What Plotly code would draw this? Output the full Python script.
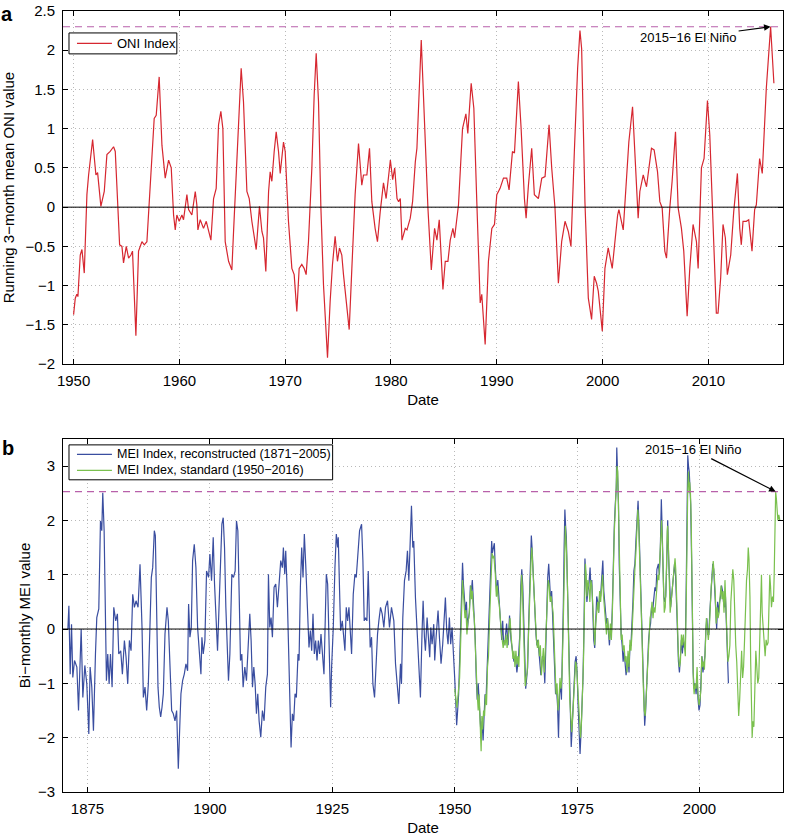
import plotly.graph_objects as go

# ---------------- data ----------------
ONI_POINTS = [
(1950.0,-1.37),(1950.16,-1.16),(1950.31,-1.11),(1950.41,-1.14),(1950.63,-0.61),(1950.79,-0.54),(1951.01,-0.84),(1951.26,0.16),(1951.42,0.41),(1951.8,0.86),(1952.11,0.41),(1952.27,0.44),(1952.58,0.01),(1952.9,0.20),(1953.15,0.67),(1953.46,0.71),(1953.78,0.77),(1953.94,0.71),(1954.09,0.28),(1954.35,-0.48),(1954.57,-0.50),(1954.72,-0.71),(1954.98,-0.50),(1955.2,-0.65),(1955.42,-0.61),(1955.57,-0.56),(1955.89,-1.64),(1956.14,-0.56),(1956.46,-0.44),(1956.68,-0.48),(1956.93,-0.44),(1957.15,0.03),(1957.4,0.54),(1957.62,1.13),(1957.81,1.17),(1958.09,1.66),(1958.35,0.79),(1958.66,0.37),(1958.98,0.60),(1959.23,0.50),(1959.45,-0.10),(1959.61,-0.29),(1959.76,-0.10),(1959.98,-0.18),(1960.24,-0.10),(1960.39,-0.16),(1960.71,0.16),(1960.87,-0.03),(1961.18,-0.10),(1961.5,0.20),(1961.65,0.03),(1961.75,-0.29),(1961.97,-0.16),(1962.28,-0.27),(1962.54,-0.18),(1962.76,-0.31),(1962.98,-0.42),(1963.23,0.11),(1963.48,0.24),(1963.7,1.05),(1963.92,1.22),(1964.11,1.00),(1964.33,-0.44),(1964.65,-0.69),(1964.96,-0.80),(1965.12,-0.31),(1965.43,0.58),(1965.65,1.26),(1965.84,1.77),(1966.06,1.34),(1966.38,0.20),(1966.6,0.11),(1966.85,-0.18),(1967.26,-0.54),(1967.39,-0.35),(1967.57,0.01),(1967.8,-0.31),(1967.95,-0.39),(1968.17,-0.82),(1968.43,0.20),(1968.58,0.45),(1968.74,0.33),(1968.96,0.71),(1969.15,0.96),(1969.37,0.71),(1969.53,0.43),(1969.84,0.83),(1970.0,0.71),(1970.31,-0.18),(1970.63,-0.78),(1970.85,-0.86),(1971.1,-1.33),(1971.32,-0.78),(1971.57,-0.73),(1971.79,-0.78),(1971.98,-0.86),(1972.2,-0.44),(1972.52,0.50),(1972.74,1.43),(1972.93,1.96),(1973.15,1.34),(1973.37,0.01),(1973.62,-0.99),(1974.0,-1.92),(1974.25,-1.20),(1974.47,-0.73),(1974.72,-0.37),(1974.94,-0.69),(1975.13,-0.52),(1975.35,-0.61),(1975.51,-0.86),(1976.05,-1.56),(1976.3,-0.78),(1976.61,0.16),(1976.93,0.81),(1977.24,0.28),(1977.4,0.41),(1977.72,0.41),(1977.97,0.75),(1978.19,0.07),(1978.5,-0.27),(1978.72,-0.44),(1978.98,-0.06),(1979.29,0.31),(1979.54,0.11),(1979.76,0.37),(1979.94,0.60),(1980.16,0.35),(1980.35,0.50),(1980.57,0.11),(1980.72,0.07),(1980.88,0.11),(1981.04,-0.42),(1981.35,-0.27),(1981.51,-0.29),(1981.82,-0.14),(1982.04,0.07),(1982.3,0.58),(1982.45,0.75),(1982.86,2.13),(1983.18,0.96),(1983.49,-0.01),(1983.81,-0.80),(1984.12,-0.27),(1984.34,-0.42),(1984.56,-0.16),(1984.91,-1.05),(1985.13,-0.69),(1985.38,-0.69),(1985.6,-0.42),(1985.85,-0.27),(1986.01,-0.39),(1986.38,0.03),(1986.76,1.00),(1987.08,1.19),(1987.26,0.94),(1987.58,1.58),(1987.83,1.26),(1988.11,0.07),(1988.43,-1.22),(1988.58,-1.11),(1988.9,-1.75),(1989.21,-0.69),(1989.53,-0.27),(1989.78,-0.22),(1990.0,0.16),(1990.31,0.24),(1990.63,0.37),(1990.94,0.37),(1991.16,0.22),(1991.48,0.71),(1991.67,0.69),(1992.04,1.60),(1992.3,1.00),(1992.61,0.11),(1992.77,-0.14),(1992.99,0.28),(1993.3,0.75),(1993.55,0.16),(1993.93,0.11),(1994.25,0.37),(1994.56,0.39),(1994.94,1.05),(1995.19,0.50),(1995.5,-0.01),(1995.82,-0.97),(1996.13,-0.44),(1996.45,-0.18),(1996.76,-0.31),(1997.01,-0.50),(1997.33,0.71),(1997.64,1.77),(1997.86,2.25),(1998.02,2.02),(1998.33,0.07),(1998.65,-1.16),(1998.96,-1.43),(1999.21,-0.88),(1999.43,-0.97),(1999.59,-1.07),(1999.97,-1.58),(2000.22,-0.78),(2000.53,-0.52),(2000.91,-0.78),(2001.42,-0.10),(2001.54,-0.03),(2001.95,-0.29),(2002.26,0.33),(2002.48,0.83),(2002.83,1.28),(2003.05,0.71),(2003.36,-0.14),(2003.52,0.20),(2003.84,0.41),(2004.15,0.26),(2004.62,0.75),(2004.87,0.73),(2005.19,0.45),(2005.41,0.07),(2005.63,-0.01),(2005.88,-0.56),(2006.04,-0.65),(2006.35,-0.01),(2006.57,0.33),(2006.89,0.96),(2007.14,-0.01),(2007.45,-0.27),(2007.67,-0.56),(2007.99,-1.39),(2008.24,-0.78),(2008.55,-0.22),(2008.87,-0.44),(2009.03,-0.78),(2009.34,0.50),(2009.59,0.62),(2009.91,1.36),(2010.13,0.92),(2010.44,-0.10),(2010.75,-1.35),(2010.91,-1.35),(2011.16,-0.90),(2011.38,-0.22),(2011.6,-0.39),(2011.79,-0.86),(2012.11,-0.61),(2012.39,-0.06),(2012.74,0.43),(2012.96,-0.27),(2013.11,-0.48),(2013.27,-0.18),(2013.58,-0.18),(2013.81,-0.16),(2014.12,-0.56),(2014.37,-0.03),(2014.53,0.03),(2014.84,0.62),(2015.09,0.43),(2015.47,1.51),(2015.88,2.30),(2016.19,1.58),
]

MEI_EXT_POINTS = [
(1871.0,0.0),(1871.2,0.43),(1871.47,-0.83),(1871.74,0.09),(1872.0,-0.89),(1872.35,-0.58),(1872.83,-0.70),(1873.17,-1.50),(1873.71,0.0),(1874.05,-1.26),(1874.46,-0.67),(1874.86,-1.01),(1875.27,-1.93),(1875.54,-0.70),(1875.88,-1.07),(1876.22,-1.87),(1876.63,-0.46),(1876.9,0.21),(1877.31,0.37),(1877.65,1.99),(1877.92,1.81),(1878.12,2.51),(1878.4,1.81),(1878.67,0.21),(1878.87,-0.95),(1879.14,-0.46),(1879.42,-1.01),(1879.69,-0.46),(1880.03,-1.07),(1880.37,0.40),(1880.77,0.15),(1881.11,0.28),(1881.39,-0.46),(1881.79,-0.40),(1882.13,-0.83),(1882.54,-0.21),(1882.88,-0.52),(1883.22,-1.01),(1883.56,-0.21),(1883.9,-0.40),(1884.24,0.64),(1884.58,0.40),(1884.92,0.52),(1885.33,0.40),(1885.73,1.19),(1886.14,0.03),(1886.41,-1.26),(1886.75,-1.07),(1887.09,-1.50),(1887.43,-1.01),(1887.77,0.15),(1888.04,0.95),(1888.32,1.13),(1888.65,1.81),(1888.86,1.72),(1889.13,0.40),(1889.4,-1.07),(1889.67,-1.44),(1889.95,-1.62),(1890.22,-1.44),(1890.49,-1.19),(1890.83,-0.09),(1891.24,0.40),(1891.51,0.15),(1891.85,-0.58),(1892.19,-1.50),(1892.53,-1.56),(1892.87,-1.69),(1893.21,-1.50),(1893.55,-2.57),(1893.89,-1.69),(1894.09,-1.19),(1894.43,-0.95),(1894.77,-0.83),(1895.11,-0.64),(1895.45,-0.77),(1895.65,0.46),(1895.92,-0.15),(1896.2,0.03),(1896.47,1.26),(1896.81,1.56),(1897.15,1.13),(1897.49,0.03),(1897.83,-0.34),(1898.17,-0.83),(1898.37,-0.15),(1898.64,-0.46),(1898.98,-0.21),(1899.32,1.07),(1899.73,0.95),(1900.0,1.38),(1900.34,0.89),(1900.68,1.69),(1900.95,0.83),(1901.22,0.28),(1901.56,-0.40),(1901.77,0.15),(1902.17,1.38),(1902.45,1.93),(1902.72,2.05),(1902.99,1.50),(1903.26,0.40),(1903.53,-0.46),(1903.8,-0.95),(1904.08,-0.46),(1904.48,1.01),(1904.82,0.95),(1905.16,1.07),(1905.43,1.99),(1905.71,1.81),(1905.98,0.64),(1906.25,-0.58),(1906.52,-0.46),(1906.79,-1.07),(1907.13,-0.70),(1907.47,-0.95),(1907.74,-0.46),(1908.15,0.28),(1908.42,-0.21),(1908.7,-1.07),(1908.97,-0.70),(1909.24,-1.01),(1909.51,-1.56),(1909.78,-1.19),(1910.05,-1.69),(1910.39,-1.99),(1910.73,-1.50),(1911.07,-1.69),(1911.41,-1.07),(1911.75,-0.83),(1911.96,1.01),(1912.23,0.03),(1912.5,0.21),(1912.77,-0.15),(1913.11,0.77),(1913.45,0.83),(1913.79,0.40),(1914.13,0.89),(1914.47,1.26),(1914.81,1.13),(1915.01,1.50),(1915.29,1.01),(1915.49,1.44),(1915.76,0.77),(1916.03,-0.34),(1916.3,-0.89),(1916.58,-2.18),(1916.85,-1.56),(1917.12,-1.69),(1917.39,-1.19),(1917.66,-1.26),(1918.0,-0.46),(1918.21,-0.58),(1918.48,0.77),(1918.75,1.50),(1919.02,0.95),(1919.29,1.75),(1919.57,1.19),(1919.91,0.21),(1920.24,-0.34),(1920.52,-0.03),(1920.79,-0.40),(1921.06,0.28),(1921.33,-0.46),(1921.6,-0.21),(1921.88,-0.58),(1922.15,-0.21),(1922.42,-0.46),(1922.69,-0.09),(1922.96,-0.46),(1923.3,-0.83),(1923.51,-0.03),(1923.78,1.01),(1924.05,0.83),(1924.32,-0.34),(1924.66,-1.44),(1924.86,-0.70),(1925.2,0.03),(1925.54,1.13),(1925.82,1.75),(1926.09,1.50),(1926.22,1.69),(1926.49,0.70),(1926.7,-0.03),(1927.04,0.15),(1927.38,-0.21),(1927.58,-0.40),(1927.85,0.40),(1928.13,0.15),(1928.4,0.40),(1928.67,-0.09),(1928.94,-0.46),(1929.28,0.64),(1929.62,1.01),(1929.89,0.95),(1930.16,1.26),(1930.57,1.81),(1930.98,1.93),(1931.25,1.26),(1931.52,0.15),(1931.79,0.21),(1932.07,0.15),(1932.34,1.07),(1932.54,0.34),(1932.74,-0.34),(1933.02,-0.15),(1933.29,-1.01),(1933.63,-1.26),(1933.97,-0.46),(1934.24,-0.09),(1934.51,0.15),(1934.85,0.40),(1935.19,0.28),(1935.53,0.03),(1935.87,0.40),(1936.28,0.52),(1936.68,0.03),(1937.09,0.40),(1937.57,0.15),
(1937.91,-0.64),(1938.25,-1.01),(1938.59,-1.38),(1938.93,-0.64),(1939.13,-1.01),(1939.4,0.21),(1939.74,0.89),(1940.08,1.07),(1940.35,1.44),(1940.63,0.89),(1940.96,1.87),(1941.17,2.27),(1941.44,1.50),(1941.64,1.62),(1941.98,0.58),(1942.32,-0.03),(1942.66,-0.89),(1943.0,-1.26),(1943.34,-0.03),(1943.55,0.52),(1943.82,-0.15),(1944.02,-0.40),(1944.36,0.21),(1944.7,-0.15),(1944.9,-0.52),(1945.11,0.03),(1945.38,-0.28),(1945.72,0.09),(1945.92,-0.58),(1946.2,-0.15),(1946.6,0.34),(1946.88,-0.15),(1947.21,-0.64),(1947.55,-0.28),(1947.83,0.21),(1948.1,0.58),(1948.37,-0.03),(1948.64,-0.28),(1948.91,0.21),(1949.18,-0.28),(1949.46,0.03),(1949.73,-0.34),
(1950.0,-0.9),(1950.2,-1.3),(1950.4,-1.77),(1950.6,-1.5),(1950.8,-1.2),(1951.0,-0.6),(1951.2,0.2),(1951.4,0.9),(1951.6,1.22),(1951.8,0.8),(1952.0,0.4),(1952.2,0.3),(1952.4,0.5),(1952.6,0.0),(1952.8,0.2),(1953.0,0.3),(1953.2,0.8),(1953.4,0.7),(1953.6,0.9),(1953.8,0.5),(1954.0,0.3),(1954.2,-0.2),(1954.4,-0.9),(1954.6,-1.3),(1954.8,-1.0),(1955.0,-1.3),(1955.2,-1.6),(1955.4,-2.0),(1955.6,-1.7),(1955.8,-2.05),(1956.0,-1.6),(1956.2,-1.2),(1956.4,-1.3),(1956.6,-0.8),(1956.8,-0.4),(1957.0,0.3),(1957.2,0.9),(1957.4,1.3),(1957.55,1.62),(1957.7,1.4),(1957.9,1.5),(1958.1,1.58),(1958.25,1.2),(1958.4,0.8),(1958.6,0.6),(1958.8,0.9),(1959.0,0.6),(1959.2,0.4),(1959.4,0.1),(1959.6,-0.2),(1959.8,0.15),(1960.0,-0.3),(1960.3,-0.2),(1960.6,0.1),(1960.9,-0.3),(1961.2,0.25),(1961.5,-0.2),(1961.8,-0.45),(1962.1,-0.6),(1962.4,-0.5),(1962.7,-0.8),(1963.0,-0.55),(1963.3,-0.1),(1963.5,0.8),(1963.7,1.1),(1963.9,0.8),(1964.1,0.1),(1964.3,-0.7),(1964.5,-1.1),(1964.7,-0.9),(1964.9,-0.7),(1965.1,0.1),(1965.3,0.6),(1965.5,1.2),(1965.65,1.72),(1965.8,1.5),(1966.0,1.0),(1966.2,0.6),(1966.4,0.3),(1966.6,-0.1),(1966.8,-0.3),(1967.0,-0.2),(1967.3,-0.6),(1967.6,-0.85),(1967.9,-0.5),(1968.2,-0.6),(1968.4,-1.0),(1968.6,-0.3),(1968.8,0.6),(1969.0,0.95),(1969.2,1.2),(1969.4,0.7),(1969.6,0.5),(1969.8,0.7),(1970.0,0.3),(1970.2,0.0),(1970.4,-0.7),(1970.6,-1.2),(1970.8,-1.1),(1971.0,-1.4),(1971.2,-2.0),(1971.4,-1.2),(1971.6,-1.0),(1971.8,-1.3),(1972.0,-0.6),(1972.2,0.5),(1972.35,1.5),(1972.5,2.2),(1972.65,1.9),(1972.8,1.7),(1973.0,0.9),(1973.2,0.1),(1973.4,-1.0),(1973.6,-1.7),(1973.8,-2.17),(1974.0,-1.8),(1974.2,-1.4),(1974.4,-0.9),(1974.6,-0.6),(1974.8,-0.5),(1975.0,-0.8),(1975.2,-1.4),(1975.4,-1.8),(1975.6,-2.3),(1975.8,-1.9),(1976.0,-1.5),(1976.2,-0.9),(1976.4,0.0),(1976.6,1.3),(1976.8,0.9),(1977.0,0.5),(1977.2,0.7),(1977.4,0.8),(1977.65,1.13),(1977.8,0.8),(1978.0,0.9),(1978.2,0.3),(1978.4,-0.2),(1978.6,-0.35),(1978.8,0.3),(1979.0,0.6),(1979.2,0.5),(1979.4,0.3),(1979.6,0.65),(1979.8,0.6),(1980.0,0.9),(1980.25,1.26),(1980.45,0.7),(1980.65,0.4),(1980.85,0.2),(1981.0,0.1),(1981.2,0.2),(1981.4,-0.2),(1981.6,-0.3),(1981.8,0.0),(1982.0,-0.1),(1982.2,0.4),(1982.4,1.38),(1982.6,1.9),(1982.8,2.3),(1983.0,2.6),(1983.1,3.34),(1983.25,3.0),(1983.45,2.3),(1983.6,1.2),(1983.8,0.2),(1984.0,-0.1),(1984.2,-0.3),(1984.4,-0.6),(1984.6,-0.4),(1984.8,-0.7),(1985.0,-0.85),(1985.2,-0.7),(1985.4,-0.5),(1985.6,-0.8),(1985.8,-0.3),(1986.0,-0.3),(1986.2,0.0),(1986.4,0.5),(1986.6,1.07),(1986.8,1.2),(1987.0,1.6),(1987.2,2.05),(1987.45,2.36),(1987.6,2.0),(1987.8,1.3),(1988.0,0.6),(1988.2,0.1),(1988.4,-0.6),(1988.6,-1.4),(1988.8,-1.78),(1989.0,-1.5),(1989.2,-1.0),(1989.4,-0.6),(1989.6,-0.2),(1989.8,0.0),(1990.0,0.1),(1990.2,0.4),(1990.4,0.3),(1990.6,0.5),(1990.9,0.77),(1991.1,0.7),(1991.3,1.1),(1991.6,1.2),(1991.8,1.0),(1992.0,1.5),(1992.2,2.39),(1992.35,1.9),(1992.5,1.2),(1992.7,0.6),(1992.9,0.5),(1993.1,0.6),(1993.3,1.2),(1993.5,2.0),(1993.7,1.3),(1993.9,0.6),(1994.1,0.4),(1994.3,0.6),(1994.5,0.9),(1994.7,1.0),(1994.9,1.2),(1995.1,1.0),(1995.3,0.5),(1995.5,-0.1),(1995.7,-0.6),(1995.9,-0.8),(1996.1,-0.4),(1996.3,-0.2),(1996.5,-0.45),(1996.7,-0.2),(1996.9,-0.35),(1997.1,-0.3),(1997.3,0.9),(1997.45,2.3),(1997.6,3.2),(1997.75,3.0),(1997.9,2.9),(1998.05,2.6),(1998.2,2.3),(1998.4,1.2),(1998.55,0.0),(1998.7,-0.8),(1998.9,-1.1),(1999.1,-1.0),(1999.3,-1.2),(1999.5,-0.9),(1999.7,-1.3),(1999.9,-1.5),(2000.1,-1.4),(2000.3,-1.0),(2000.5,-0.5),(2000.7,-0.8),(2000.9,-0.6),(2001.1,-0.5),(2001.3,0.0),(2001.5,0.2),(2001.7,-0.1),(2001.9,-0.1),(2002.1,0.3),(2002.3,0.7),(2002.5,1.0),(2002.7,1.2),(2002.9,1.1),(2003.1,0.8),(2003.3,0.5),(2003.5,0.0),(2003.7,0.5),(2003.9,0.3),(2004.1,0.5),(2004.3,0.6),(2004.5,0.8),(2004.7,0.7),(2004.9,0.5),(2005.1,0.4),(2005.3,0.6),(2005.5,0.1),(2005.7,-0.5),(2005.9,-1.0),
]

MEI_STD_POINTS = [
(1950.0,-1.1),(1950.2,-1.3),(1950.45,-1.45),(1950.6,-1.3),(1950.8,-1.1),(1951.0,-0.9),(1951.2,-0.3),(1951.4,0.5),(1951.6,0.9),(1951.75,0.7),(1951.9,0.35),(1952.1,0.2),(1952.3,0.35),(1952.5,-0.1),(1952.7,0.15),(1952.9,0.2),(1953.1,0.5),(1953.3,0.8),(1953.45,0.55),(1953.6,0.7),(1953.8,0.35),(1954.0,0.2),(1954.2,-0.3),(1954.4,-0.9),(1954.6,-1.2),(1954.8,-1.5),(1955.0,-1.2),(1955.2,-1.75),(1955.4,-2.25),(1955.55,-1.6),(1955.7,-1.85),(1955.9,-1.5),(1956.1,-1.6),(1956.3,-1.2),(1956.5,-1.4),(1956.7,-0.7),(1956.9,-0.5),(1957.1,0.1),(1957.3,0.8),(1957.5,1.1),(1957.65,1.4),(1957.8,1.3),(1958.0,1.35),(1958.15,1.2),(1958.3,1.0),(1958.5,0.6),(1958.7,0.8),(1958.9,0.55),(1959.1,0.45),(1959.3,0.2),(1959.5,-0.05),(1959.7,-0.2),(1959.9,-0.35),(1960.1,-0.2),(1960.3,-0.3),(1960.5,-0.1),(1960.7,-0.35),(1960.9,-0.15),(1961.1,0.1),(1961.3,0.2),(1961.5,-0.1),(1961.7,-0.45),(1961.9,-0.55),(1962.1,-0.4),(1962.3,-0.7),(1962.5,-0.4),(1962.7,-0.65),(1962.9,-0.5),(1963.1,-0.7),(1963.3,-0.2),(1963.5,0.7),(1963.65,1.0),(1963.8,0.8),(1964.0,0.3),(1964.2,-0.5),(1964.4,-1.05),(1964.6,-0.9),(1964.8,-0.8),(1965.0,-0.3),(1965.2,0.4),(1965.4,0.9),(1965.6,1.3),(1965.75,1.5),(1965.9,1.2),(1966.1,0.8),(1966.3,0.5),(1966.5,0.2),(1966.7,-0.2),(1966.9,-0.35),(1967.1,-0.2),(1967.3,-0.5),(1967.5,-0.3),(1967.7,-0.85),(1967.9,-0.6),(1968.1,-0.35),(1968.3,-0.8),(1968.5,-0.4),(1968.7,0.3),(1968.9,0.7),(1969.1,0.9),(1969.3,0.8),(1969.5,0.5),(1969.7,0.6),(1969.9,0.4),(1970.1,0.3),(1970.3,-0.2),(1970.5,-0.8),(1970.7,-1.2),(1970.9,-1.0),(1971.1,-1.5),(1971.3,-1.3),(1971.5,-0.9),(1971.7,-1.1),(1971.9,-0.9),(1972.1,-0.2),(1972.3,1.0),(1972.45,1.6),(1972.6,1.9),(1972.75,1.6),(1972.9,1.3),(1973.1,0.5),(1973.3,-0.5),(1973.5,-1.3),(1973.7,-1.6),(1973.9,-1.9),(1974.1,-1.6),(1974.3,-1.2),(1974.5,-0.9),(1974.7,-0.6),(1974.9,-0.7),(1975.1,-1.0),(1975.3,-1.5),(1975.5,-1.8),(1975.7,-2.0),(1975.9,-1.7),(1976.1,-1.3),(1976.3,-0.6),(1976.5,0.4),(1976.7,1.2),(1976.85,1.0),(1977.0,0.6),(1977.2,0.9),(1977.4,0.8),(1977.6,0.5),(1977.8,0.9),(1978.0,0.8),(1978.2,0.4),(1978.4,-0.1),(1978.6,-0.3),(1978.8,0.1),(1979.0,0.3),(1979.2,0.5),(1979.4,0.3),(1979.6,0.7),(1979.8,0.5),(1980.0,0.8),(1980.2,1.0),(1980.4,0.6),(1980.6,0.3),(1980.8,0.1),(1981.0,-0.1),(1981.2,0.2),(1981.4,0.0),(1981.6,-0.2),(1981.8,0.1),(1982.0,-0.2),(1982.2,0.3),(1982.4,1.2),(1982.6,1.8),(1982.8,2.2),(1983.0,2.7),(1983.15,3.0),(1983.3,2.9),(1983.45,2.3),(1983.6,1.3),(1983.8,0.3),(1984.0,-0.2),(1984.2,-0.1),(1984.4,-0.4),(1984.6,-0.3),(1984.8,-0.6),(1985.0,-0.5),(1985.2,-0.8),(1985.4,-0.4),(1985.6,-0.7),(1985.8,-0.2),(1986.0,-0.4),(1986.2,-0.1),(1986.4,0.4),(1986.6,0.9),(1986.8,1.1),(1987.0,1.4),(1987.2,1.9),(1987.4,2.2),(1987.55,2.0),(1987.7,1.6),(1987.9,1.0),(1988.1,0.4),(1988.3,-0.3),(1988.5,-1.0),(1988.7,-1.5),(1988.9,-1.6),(1989.1,-1.2),(1989.3,-0.9),(1989.5,-0.3),(1989.7,-0.1),(1989.9,0.2),(1990.1,0.3),(1990.3,0.5),(1990.5,0.2),(1990.7,0.4),(1990.9,0.3),(1991.1,0.5),(1991.3,0.8),(1991.5,1.0),(1991.7,0.9),(1991.9,1.3),(1992.1,1.8),(1992.25,2.0),(1992.4,1.6),(1992.6,0.9),(1992.8,0.3),(1993.0,0.4),(1993.2,0.9),(1993.4,1.8),(1993.5,1.9),(1993.65,1.5),(1993.8,0.8),(1994.0,0.3),(1994.2,0.5),(1994.4,0.7),(1994.6,1.0),(1994.8,1.2),(1995.0,1.3),(1995.15,1.1),(1995.3,0.6),(1995.5,0.0),(1995.7,-0.5),(1995.9,-0.7),(1996.1,-0.6),(1996.3,-0.1),(1996.5,-0.3),(1996.7,-0.1),(1996.9,-0.3),(1997.1,-0.5),(1997.3,0.6),(1997.45,2.0),(1997.6,2.6),(1997.75,2.9),(1997.9,2.5),(1998.0,2.7),(1998.15,2.5),(1998.3,2.0),(1998.45,1.0),(1998.6,-0.5),(1998.75,-1.0),(1998.9,-1.2),(1999.1,-1.0),(1999.3,-1.1),(1999.5,-0.7),(1999.7,-1.2),(1999.9,-1.4),
(2000.1,-1.3),(2000.3,-1.1),(2000.45,-0.5),(2000.6,-0.7),(2000.8,-0.6),(2001.0,-0.75),(2001.2,-0.3),(2001.4,0.2),(2001.6,0.0),(2001.8,-0.2),(2002.0,0.0),(2002.2,0.5),(2002.4,0.8),(2002.6,1.0),(2002.8,1.25),(2003.0,1.0),(2003.2,0.7),(2003.4,0.1),(2003.6,0.4),(2003.8,0.2),(2004.0,0.3),(2004.2,0.6),(2004.4,0.8),(2004.6,0.55),(2004.8,0.7),(2005.0,0.3),(2005.2,0.9),(2005.4,0.4),(2005.6,-0.1),(2005.8,-0.6),(2006.0,-0.5),(2006.2,-0.3),(2006.4,0.5),(2006.6,0.8),(2006.8,1.1),(2007.0,0.9),(2007.2,0.1),(2007.4,-0.3),(2007.6,-0.6),(2007.8,-1.2),(2008.0,-1.6),(2008.2,-1.3),(2008.4,-0.8),(2008.6,-0.4),(2008.8,-0.9),(2009.0,-0.7),(2009.2,-0.2),(2009.4,0.5),(2009.6,0.9),(2009.8,1.1),(2009.95,1.5),(2010.1,1.3),(2010.3,0.6),(2010.45,-0.6),(2010.6,-1.6),(2010.75,-2.0),(2010.9,-1.7),(2011.1,-1.8),(2011.3,-1.1),(2011.5,-0.4),(2011.7,-0.7),(2011.9,-1.0),(2012.1,-0.9),(2012.3,-0.2),(2012.5,0.9),(2012.65,1.0),(2012.8,0.3),(2013.0,0.0),(2013.2,-0.3),(2013.4,-0.5),(2013.6,-0.2),(2013.8,-0.3),(2014.0,-0.25),(2014.2,0.4),(2014.35,1.0),(2014.5,0.8),(2014.7,0.4),(2014.9,0.6),(2015.1,0.5),(2015.25,1.0),(2015.4,1.7),(2015.55,2.53),(2015.7,2.4),(2015.85,2.2),(2016.0,2.0),(2016.2,2.1),(2016.4,2.0),
]

oni_year = [p[0] for p in ONI_POINTS]
oni_value = [p[1] for p in ONI_POINTS]
mei_ext_year = [p[0] for p in MEI_EXT_POINTS]
mei_ext_value = [p[1] for p in MEI_EXT_POINTS]
mei_std_year = [p[0] for p in MEI_STD_POINTS]
mei_std_value = [p[1] for p in MEI_STD_POINTS]

ONI_PEAK = (2015.88, 2.30)    # 2015-16 El Nino, ONI
MEI_PEAK = (2015.55, 2.53)    # 2015-16 El Nino, MEI

ONI_NAME = "ONI Index"
MEI_EXT_NAME = "MEI Index, reconstructed (1871\u22122005)"
MEI_STD_NAME = "MEI Index, standard (1950\u22122016)"

ONI_XRANGE = [1949.0, 2017.05]
ONI_YRANGE = [-2.0, 2.5]
MEI_XRANGE = [1870.0, 2017.05]
MEI_YRANGE = [-3.0, 3.5]

# ---------------- styling ----------------
FONT = "Liberation Sans, Arial, Helvetica, sans-serif"
RED = "rgb(214,39,48)"
BLUE = "rgb(58,78,160)"
GREEN = "rgb(122,192,78)"
PURPLE = "rgb(184,96,170)"
GRID = "rgb(185,185,185)"

W, H = 786, 839
ML, MR, MT, MB = 63, 2, 9, 47
PW, PH = W - ML - MR, H - MT - MB


def px(xp):   # page pixel -> paper x
    return (xp - ML) / PW


def py(yp):   # page pixel -> paper y
    return 1 - (yp - MT) / PH


fig = go.Figure()
fig.add_trace(go.Scatter(x=oni_year, y=oni_value, mode="lines", name=ONI_NAME, showlegend=False,
                         line=dict(color=RED, width=1.2), xaxis="x", yaxis="y"))
fig.add_trace(go.Scatter(x=mei_ext_year, y=mei_ext_value, mode="lines", name=MEI_EXT_NAME,
                         showlegend=False, line=dict(color=BLUE, width=1.2), xaxis="x2", yaxis="y2"))
fig.add_trace(go.Scatter(x=mei_std_year, y=mei_std_value, mode="lines", name=MEI_STD_NAME,
                         showlegend=False, line=dict(color=GREEN, width=1.2), xaxis="x2", yaxis="y2"))

axis_common = dict(showline=True, linecolor="black", linewidth=1, mirror="ticks",
                   ticks="inside", ticklen=5, tickcolor="black", tickwidth=1,
                   showgrid=True, gridcolor=GRID, griddash="1px,3px", gridwidth=1,
                   zeroline=False, tickfont=dict(size=15, color="black", family=FONT))
xtitle = dict(text="Date", font=dict(size=15, color="black", family=FONT), standoff=6)

fig.update_layout(
    width=W, height=H,
    margin=dict(l=ML, r=MR, t=MT, b=MB),
    plot_bgcolor="white", paper_bgcolor="white",
    font=dict(family=FONT, color="black", size=13),
    showlegend=False,
    xaxis=dict(domain=[0, 1], anchor="y", range=ONI_XRANGE, tick0=1950, dtick=10,
               ticklabelstandoff=3, title=xtitle, **axis_common),
    yaxis=dict(domain=[py(363), 1], anchor="x", range=ONI_YRANGE, tick0=0, dtick=0.5,
               ticklabelstandoff=4,
               title=dict(text="Running 3\u2212month mean ONI value", standoff=9,
                          font=dict(size=15, color="black", family=FONT)), **axis_common),
    xaxis2=dict(domain=[0, 1], anchor="y2", range=MEI_XRANGE, tick0=1875, dtick=25,
                ticklabelstandoff=3, title=xtitle, **axis_common),
    yaxis2=dict(domain=[0, py(438)], anchor="x2", range=MEI_YRANGE, tick0=0, dtick=1,
                ticklabelstandoff=4,
                title=dict(text="Bi\u2212monthly MEI value", standoff=3,
                           font=dict(size=15, color="black", family=FONT)), **axis_common),
)

# zero lines and peak reference lines
for xr, yr, peak in [("x", "y", ONI_PEAK), ("x2", "y2", MEI_PEAK)]:
    fig.add_shape(type="line", xref=f"{xr} domain", yref=yr, x0=0, x1=1, y0=0, y1=0,
                  line=dict(color="black", width=1), layer="above")
    fig.add_shape(type="line", xref=f"{xr} domain", yref=yr, x0=0, x1=1, y0=peak[1], y1=peak[1],
                  line=dict(color=PURPLE, width=1.1, dash="7px,5px"), layer="above")

# legends (boxed, MATLAB style)
LEGENDS = [
    dict(box=(69, 31, 177, 52), font=13, items=[(ONI_NAME, RED, 41.5)]),
    dict(box=(69, 444, 333, 479), font=12.5, items=[(MEI_EXT_NAME, BLUE, 453.5), (MEI_STD_NAME, GREEN, 469.5)]),
]
for lg in LEGENDS:
    x0, y0, x1, y1 = lg["box"]
    fig.add_shape(type="rect", xref="paper", yref="paper", x0=px(x0), x1=px(x1), y0=py(y1), y1=py(y0),
                  line=dict(color="black", width=1), fillcolor="white", layer="above")
    for name, color, yy in lg["items"]:
        fig.add_shape(type="line", xref="paper", yref="paper", x0=px(77), x1=px(112), y0=py(yy), y1=py(yy),
                      line=dict(color=color, width=1.2), layer="above")
        fig.add_annotation(x=px(116), y=py(yy), xref="paper", yref="paper", text=name, showarrow=False,
                           xanchor="left", yanchor="middle", borderpad=0,
                           font=dict(size=lg["font"], family=FONT, color="black"))

# annotations
fig.add_annotation(x=ONI_PEAK[0], y=ONI_PEAK[1], xref="x", yref="y",
                   text="2015\u221216 El Ni\u00f1o", showarrow=True, ax=-82, ay=11,
                   arrowhead=2, arrowsize=1.1, arrowwidth=1.2, arrowcolor="black",
                   font=dict(size=13, family=FONT, color="black"))
fig.add_annotation(x=MEI_PEAK[0], y=MEI_PEAK[1], xref="x2", yref="y2",
                   text="2015\u221216 El Ni\u00f1o", showarrow=True, ax=-82, ay=-42,
                   arrowhead=2, arrowsize=1.1, arrowwidth=1.2, arrowcolor="black",
                   font=dict(size=13, family=FONT, color="black"))
fig.add_annotation(x=px(7), y=py(0), xref="paper", yref="paper", text="<b>a</b>",
                   showarrow=False, xanchor="center", yanchor="top", borderpad=0,
                   font=dict(size=20, family=FONT, color="black"))
fig.add_annotation(x=px(8), y=py(447), xref="paper", yref="paper", text="<b>b</b>",
                   showarrow=False, xanchor="center", yanchor="middle", borderpad=0,
                   font=dict(size=20, family=FONT, color="black"))

fig.write_html("out.html", config={"displayModeBar": False},
               post_script="document.body.style.margin='0';document.body.style.overflow='hidden';")
